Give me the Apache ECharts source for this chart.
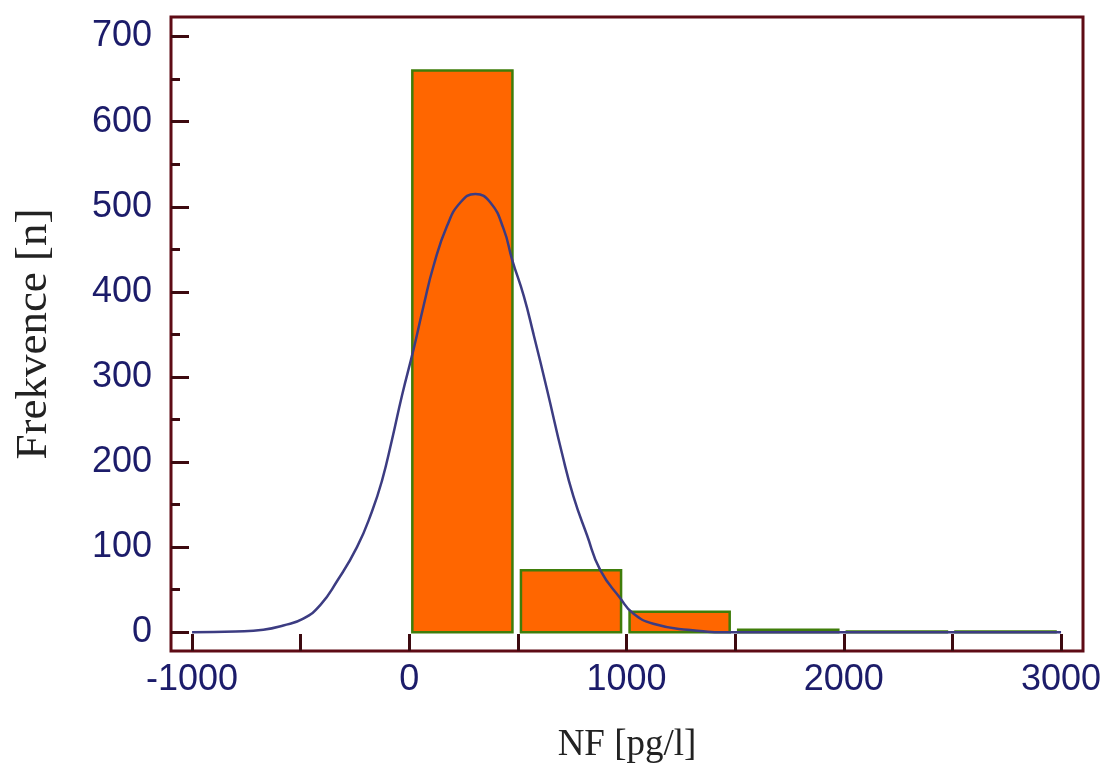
<!DOCTYPE html>
<html>
<head>
<meta charset="utf-8">
<script src="https://cdn.jsdelivr.net/npm/echarts@6/dist/echarts.min.js"></script>
<style>
  html, body { margin: 0; padding: 0; background: #fff; }
  #chart { width: 1109px; height: 769px; }
</style>
</head>
<body>
<div id="chart"></div>
<script>
// histogram bins (NF pg/l) and counts
const binEdges = [0, 500, 1000, 1500, 2000, 2500, 3000];
const counts = [660, 73, 24, 3, 1, 1];

// fitted curve
const curveX = [-1000, -800, -672, -580, -488, -410, -333, -241, -172, -126, -80, -34, 20, 66, 112, 173, 235, 304, 373, 434, 473, 527, 572, 634, 703, 755, 818, 879, 971, 1031, 1123, 1280, 1492, 2000, 2500, 3000];
const curveY = [0, 1, 3, 8, 16, 32, 60, 100, 142, 178, 226, 278, 333, 384, 431, 477, 505, 515, 505, 474, 438, 395, 350, 285, 210, 160, 114, 73, 40, 22, 10, 3, 0, 0, 0, 0];

// tick positions
const xTicks = [-1000, -500, 0, 500, 1000, 1500, 2000, 2500, 3000];
const xLabels = [-1000, 0, 1000, 2000, 3000];
const yMajor = [0, 100, 200, 300, 400, 500, 600, 700];
const yMinor = [50, 150, 250, 350, 450, 550, 650];

const frameColor = '#5e0b15';
const tickColor = '#3d0a10';
const labelColor = '#1c1c6a';

const chart = echarts.init(document.getElementById('chart'));

const barData = counts.map((c, i) => [binEdges[i], binEdges[i + 1], c]);
const curveData = curveX.map((x, i) => [x, curveY[i]]);

chart.setOption({
    backgroundColor: '#ffffff',
    animation: false,
    grid: {
        left: 171, top: 17, right: 26, bottom: 116,
        show: true, borderColor: frameColor, borderWidth: 3,
        backgroundColor: 'transparent'
    },
    xAxis: {
        type: 'value', min: -1097, max: 3101,
        splitLine: { show: false },
        axisLine: { show: false, onZero: false },
        axisTick: { show: true, inside: true, length: 17, customValues: xTicks,
            lineStyle: { color: tickColor, width: 3 } },
        axisLabel: { customValues: xLabels, color: labelColor, fontSize: 36,
            fontFamily: 'Liberation Sans', margin: 11, formatter: v => String(v) },
        name: 'NF [pg/l]', nameLocation: 'middle', nameGap: 76,
        nameTextStyle: { fontFamily: 'Liberation Serif', fontSize: 37, color: '#222' }
    },
    yAxis: [{
        type: 'value', min: -22, max: 723,
        splitLine: { show: false },
        axisLine: { show: false, onZero: false },
        axisTick: { show: true, inside: true, length: 18, customValues: yMajor,
            lineStyle: { color: tickColor, width: 3 } },
        axisLabel: { customValues: yMajor, color: labelColor, fontSize: 36,
            fontFamily: 'Liberation Sans', margin: 19, formatter: v => String(v) },
        name: 'Frekvence [n]', nameLocation: 'middle', nameGap: 114, nameRotate: 90,
        nameTextStyle: { fontFamily: 'Liberation Serif', fontSize: 45, color: '#222' }
    }, {
        // minor ticks only
        type: 'value', min: -22, max: 723, position: 'left',
        splitLine: { show: false },
        axisLine: { show: false, onZero: false },
        axisTick: { show: true, inside: true, length: 9, customValues: yMinor,
            lineStyle: { color: tickColor, width: 3 } },
        axisLabel: { show: false }
    }],
    series: [{
        type: 'custom',
        data: barData,
        encode: { x: [0, 1], y: 2 },
        renderItem: function (params, api) {
            const p0 = api.coord([api.value(0), 0]);
            const p1 = api.coord([api.value(1), api.value(2)]);
            return {
                type: 'rect',
                shape: { x: p0[0] + 3, y: p1[1], width: p1[0] - p0[0] - 8.5, height: p0[1] - p1[1] },
                style: { fill: '#ff6600', stroke: '#3f7d0a', lineWidth: 2.5 }
            };
        },
        z: 2
    }, {
        type: 'line',
        data: curveData,
        smooth: 0.5,
        showSymbol: false,
        lineStyle: { color: '#3c3c82', width: 2.5 },
        z: 3
    }]
});
</script>
</body>
</html>
